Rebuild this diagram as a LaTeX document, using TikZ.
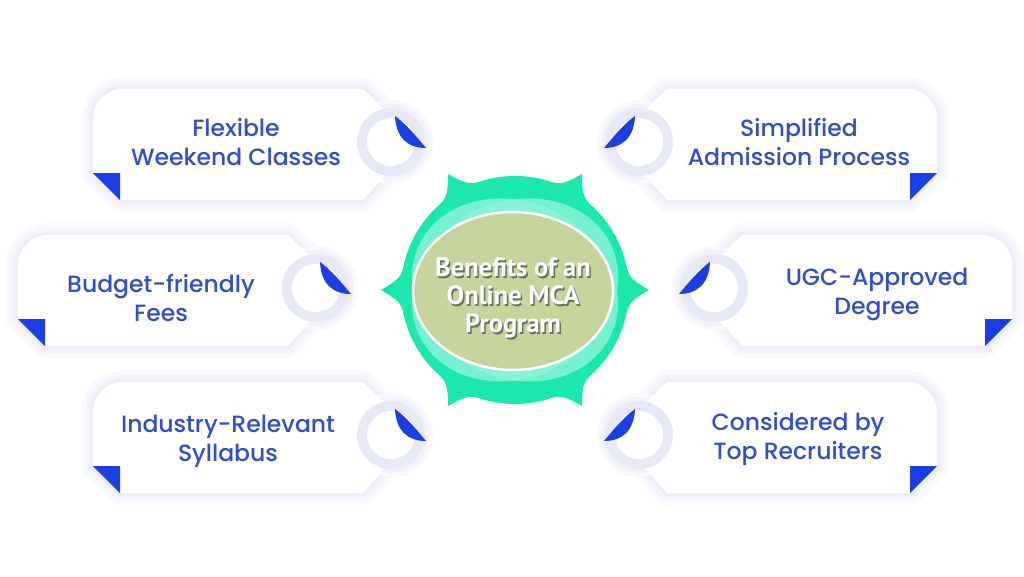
\documentclass[tikz,border=0pt]{standalone}
\usepackage{fontspec}
\usetikzlibrary{shapes.geometric}
\newfontfamily\cardfont{Poppins}[UprightFont={* Medium}]
\newfontfamily\centerfont{PT Sans}[UprightFont={* Bold}]
\definecolor{cardblue}{HTML}{1C3FE3}
\definecolor{txtblue}{HTML}{2F4FCF}
\definecolor{lav}{HTML}{E3E5F5}
\definecolor{greenone}{HTML}{1CE8AE}
\definecolor{mint}{HTML}{8EF3D8}
\definecolor{olive}{HTML}{C4D49B}
\newcommand\mycardpath{(123,89) -- (363,89) -- (388,113) -- (388,172) -- (363,200) -- (120,200) -- (93,173) -- (93,119) arc[start angle=180, end angle=270, radius=30] -- cycle}
\newcommand\mydrawcard{%
  \draw[lav!25, line width=24, line join=round] \mycardpath;
  \draw[lav!45, line width=15, line join=round] \mycardpath;
  \draw[lav!70, line width=7, line join=round] \mycardpath;
  \fill[lav!30] (391,142) circle[radius=42];
  \fill[lav!55] (391,142) circle[radius=38];
  \fill[white] \mycardpath;
  \fill[lav!90] (391,142) circle[radius=34];
  \fill[white] (391,142) circle[radius=24];
  \fill[cardblue] (93,173) -- (120,173) -- (120,200) -- cycle;
  \fill[cardblue] (395,116) .. controls (396,138) and (408,148) .. (426,148) .. controls (416,136) and (406,124) .. (395,116) -- cycle;
}
\tikzset{
  cardtext/.style={font={\cardfont\fontsize{23.5}{29}\selectfont}, text=txtblue, align=center, inner sep=0pt},
  centertext/.style={font={\centerfont\fontsize{26.5}{28}\selectfont}, align=center, inner sep=0pt}
}
\begin{document}
\begin{tikzpicture}[x=1pt, y=-1pt]
\useasboundingbox (0,0) rectangle (1024,576);
\fill[white] (0,0) rectangle (1024,576);
% left cards
\begin{scope}\mydrawcard\end{scope}
\begin{scope}[shift={(-75,146)}]\mydrawcard\end{scope}
\begin{scope}[shift={(0,293)}]\mydrawcard\end{scope}
% right cards (mirrored)
\begin{scope}[shift={(1030,0)}, xscale=-1]\mydrawcard\end{scope}
\begin{scope}[shift={(1030,0)}, xscale=-1, shift={(-75,146)}]\mydrawcard\end{scope}
\begin{scope}[shift={(1030,0)}, xscale=-1, shift={(0,293)}]\mydrawcard\end{scope}
% centre badge
\begin{scope}[shift={(515,290)}]
  \fill[greenone] (0:134) \foreach \a in {0,60,...,300} { .. controls (\a+4:120) and (\a+6:115) .. (\a+11:114) arc[start angle=\a+11, end angle=\a+49, radius=114] .. controls (\a+54:115) and (\a+56:120) .. (\a+60:134) } -- cycle;
  \fill[mint, opacity=.8, rotate=25] (0,0) ellipse[x radius=106, y radius=88];
  \fill[mint, opacity=.8, rotate=-25] (0,0) ellipse[x radius=106, y radius=88];
\end{scope}
\node[draw=white, line width=2.5, fill=olive, ellipse, minimum width=200, minimum height=158, inner sep=0pt] (badge) at (513,291) {};
\node[centertext, text=black!70, opacity=.75] (shadow) at (514.5,299.5) {Benefits of an\\Online MCA\\Program};
\node[centertext, text=white] (title) at (513,298) {Benefits of an\\Online MCA\\Program};
% texts
\node[cardtext] (t1) at (236,142) {Flexible\\Weekend Classes};
\node[cardtext] (t2) at (161,298) {Budget-friendly\\Fees};
\node[cardtext] (t3) at (228,441) {Industry-Relevant\\Syllabus};
\node[cardtext] (t4) at (799,142) {Simplified\\Admission Process};
\node[cardtext] (t5) at (877,294) {UGC-Approved\\Degree};
\node[cardtext] (t6) at (798,439) {Considered by\\Top Recruiters};
\end{tikzpicture}
\end{document}
